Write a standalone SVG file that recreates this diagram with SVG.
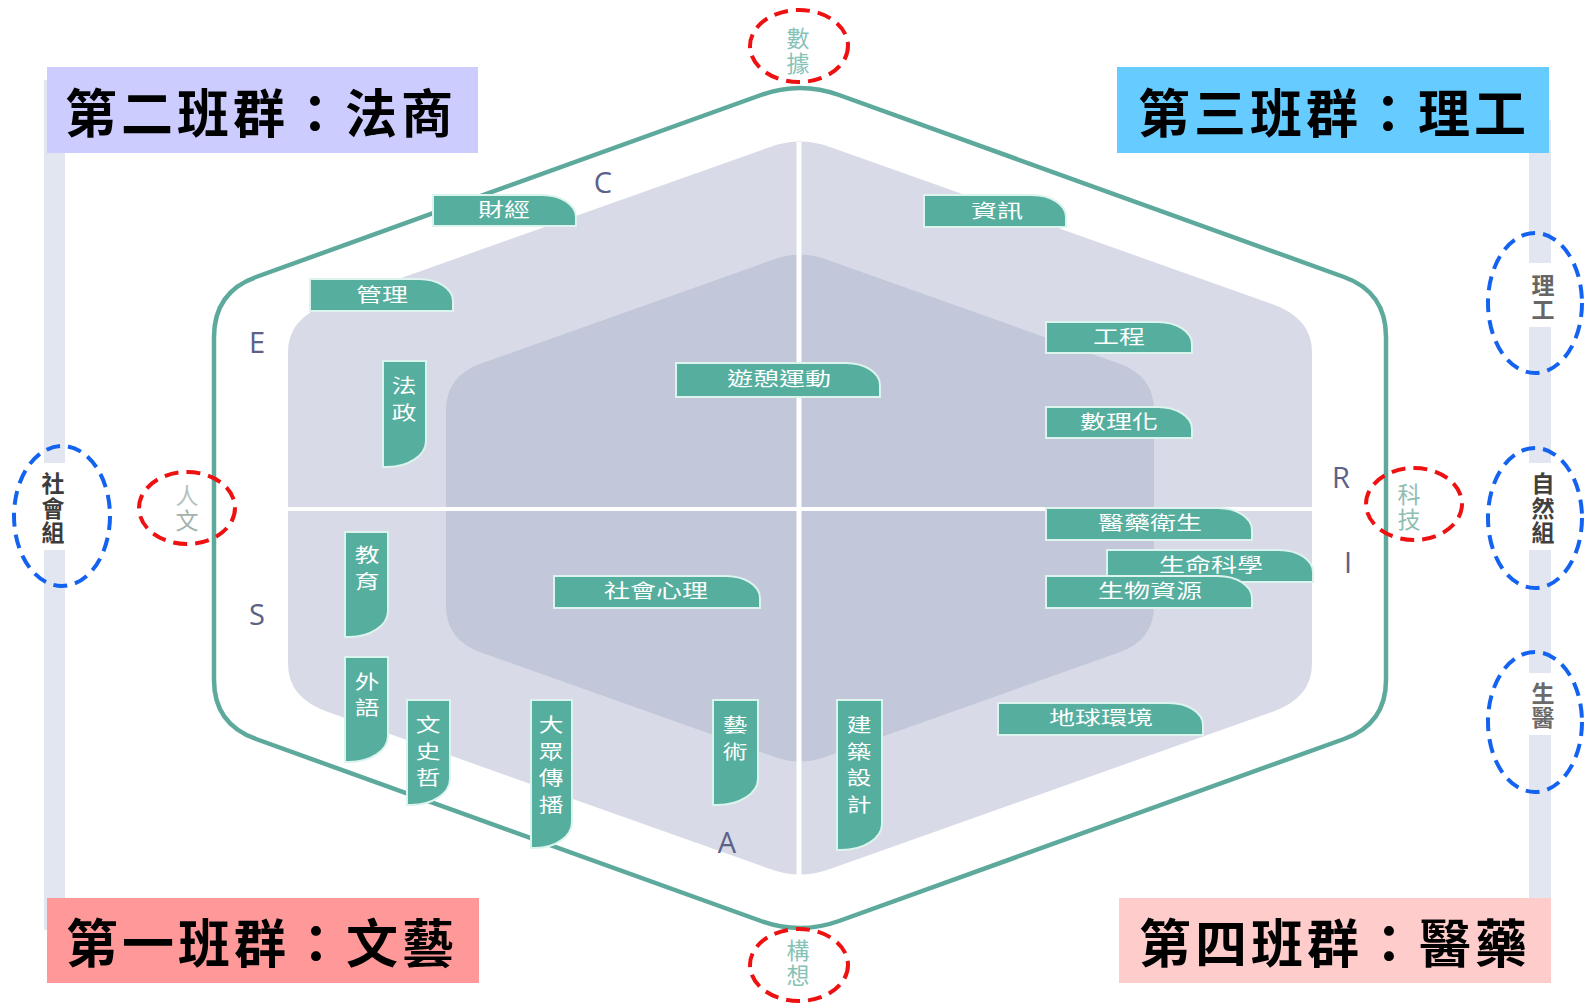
<svg xmlns="http://www.w3.org/2000/svg" width="1586" height="1006" viewBox="0 0 1586 1006">
<style>
.title{font-family:"Noto Sans CJK TC","Noto Sans CJK SC",sans-serif;font-size:52px;font-weight:700;fill:#000;letter-spacing:4px}
.tab{fill:#55AE9E;stroke:#DDF3EE;stroke-width:2}
.tt{font-family:"Noto Sans CJK TC",sans-serif;font-size:19px;fill:#fff;text-anchor:middle}
.riasec{font-family:"Open Sans","Noto Sans",sans-serif;font-size:29px;fill:#5B6187;text-anchor:middle}
.red{fill:none;stroke:#EE1111;stroke-width:4;stroke-dasharray:14 8}
.blue{fill:none;stroke:#1463F0;stroke-width:4;stroke-dasharray:14 8}
.ct{font-family:"Noto Sans CJK TC",sans-serif;font-size:23px;text-anchor:middle;writing-mode:vertical-rl;letter-spacing:2px}
.bt{font-family:"Noto Sans CJK TC",sans-serif;font-size:23px;font-weight:700;text-anchor:middle;writing-mode:vertical-rl;letter-spacing:1.5px}
.bar{fill:#E2E6F0}
</style>
<rect width="1586" height="1006" fill="#fff"/>

<g id="bars">
<rect class="bar" x="44" y="80" width="21" height="383"/>
<rect class="bar" x="44" y="550" width="21" height="380"/>
<rect class="bar" x="1529" y="120" width="22" height="143"/>
<rect class="bar" x="1529" y="327" width="22" height="136"/>
<rect class="bar" x="1529" y="550" width="22" height="123"/>
<rect class="bar" x="1529" y="735" width="22" height="190"/>
</g>

<g id="hex-outer-area">
<path fill="#D8DBE7" d="M770,147 Q800,136 830,147 L1272,304 Q1312,318 1312,352 L1312,664 Q1312,698 1272,712 L830,869 Q800,880 770,869 L328,712 Q288,698 288,664 L288,352 Q288,318 328,304 Z"/>
</g>
<g id="hex-inner-area">
<path fill="#C2C7DA" d="M775,259 Q800,250 825,259 L1119,363.5 Q1154,376 1154,410 L1154,606 Q1154,640 1119,652.5 L825,757 Q800,766 775,757 L481,652.5 Q446,640 446,606 L446,410 Q446,376 481,363.5 Z"/>
</g>
<g id="dividers">
<line x1="799" y1="142" x2="799" y2="876" stroke="#fff" stroke-width="5"/>
<line x1="288" y1="509" x2="1312" y2="509" stroke="#fff" stroke-width="4"/>
</g>
<g id="hex-outline">
<path fill="none" stroke="#5DAA9C" stroke-width="4.5" d="M761,95 Q800,81 839,95 L1344,277 Q1386,292 1386,337 L1386,680 Q1386,724 1344,739 L839,921 Q800,935 761,921 L256,739 Q214,724 214,680 L214,337 Q214,292 256,277 Z"/>
</g>

<g id="letters">
<text class="riasec" x="603" y="193">C</text>
<text class="riasec" x="257" y="353">E</text>
<text class="riasec" x="1341" y="488">R</text>
<text class="riasec" x="1348" y="573">I</text>
<text class="riasec" x="257" y="625">S</text>
<text class="riasec" x="727" y="853">A</text>
</g>

<g id="tab-caijing"><path class="tab" d="M433,195 H542 A34 22 0 0 1 576,217 V226 H433 Z"/><text class="tt" x="504" y="217" textLength="52" lengthAdjust="spacingAndGlyphs">財經</text></g>
<g id="tab-guanli"><path class="tab" d="M310,279 H419 A34 22 0 0 1 453,301 V311 H310 Z"/><text class="tt" x="382" y="302" textLength="52" lengthAdjust="spacingAndGlyphs">管理</text></g>
<g id="tab-zixun"><path class="tab" d="M924,195 H1032 A34 22 0 0 1 1066,217 V227 H924 Z"/><text class="tt" x="997" y="218" textLength="52" lengthAdjust="spacingAndGlyphs">資訊</text></g>
<g id="tab-gongcheng"><path class="tab" d="M1046,322 H1158 A34 22 0 0 1 1192,344 V353 H1046 Z"/><text class="tt" x="1119" y="344" textLength="52" lengthAdjust="spacingAndGlyphs">工程</text></g>
<g id="tab-shulihua"><path class="tab" d="M1046,407 H1158 A34 22 0 0 1 1192,429 V438 H1046 Z"/><text class="tt" x="1119" y="429" textLength="78" lengthAdjust="spacingAndGlyphs">數理化</text></g>
<g id="tab-youqi"><path class="tab" d="M676,363 H846 A34 22 0 0 1 880,385 V397 H676 Z"/><text class="tt" x="779" y="386" textLength="104" lengthAdjust="spacingAndGlyphs">遊憩運動</text></g>
<g id="tab-yiyao"><path class="tab" d="M1046,508 H1218 A34 22 0 0 1 1252,530 V540 H1046 Z"/><text class="tt" x="1150" y="530" textLength="104" lengthAdjust="spacingAndGlyphs">醫藥衛生</text></g>
<g id="tab-shengming"><path class="tab" d="M1107,550 H1279 A34 22 0 0 1 1313,572 V582 H1107 Z"/><text class="tt" x="1211" y="572" textLength="104" lengthAdjust="spacingAndGlyphs">生命科學</text></g>
<g id="tab-shengwu"><path class="tab" d="M1046,576 H1218 A34 22 0 0 1 1252,598 V608 H1046 Z"/><text class="tt" x="1150" y="598" textLength="104" lengthAdjust="spacingAndGlyphs">生物資源</text></g>
<g id="tab-diqiu"><path class="tab" d="M998,703 H1169 A34 22 0 0 1 1203,725 V735 H998 Z"/><text class="tt" x="1101" y="725" textLength="104" lengthAdjust="spacingAndGlyphs">地球環境</text></g>
<g id="tab-shehui"><path class="tab" d="M554,576 H726 A34 22 0 0 1 760,598 V608 H554 Z"/><text class="tt" x="656" y="598" textLength="104" lengthAdjust="spacingAndGlyphs">社會心理</text></g>

<g id="tab-fazheng"><path class="tab" d="M383,361 H426 V441 A39 26 0 0 1 387,467 H383 Z"/>
<text class="tt" transform="translate(404,0) scale(1.3,1)"><tspan x="0" y="393">法</tspan><tspan x="0" y="420">政</tspan></text></g>
<g id="tab-jiaoyu"><path class="tab" d="M345,532 H388 V611 A39 26 0 0 1 349,637 H345 Z"/>
<text class="tt" transform="translate(367,0) scale(1.3,1)"><tspan x="0" y="562">教</tspan><tspan x="0" y="589">育</tspan></text></g>
<g id="tab-waiyu"><path class="tab" d="M345,657 H388 V736 A39 26 0 0 1 349,762 H345 Z"/>
<text class="tt" transform="translate(367,0) scale(1.3,1)"><tspan x="0" y="689">外</tspan><tspan x="0" y="715">語</tspan></text></g>
<g id="tab-wenshizhe"><path class="tab" d="M407,700 H450 V779 A39 26 0 0 1 411,805 H407 Z"/>
<text class="tt" transform="translate(428,0) scale(1.3,1)"><tspan x="0" y="732">文</tspan><tspan x="0" y="759">史</tspan><tspan x="0" y="785">哲</tspan></text></g>
<g id="tab-dazhong"><path class="tab" d="M531,700 H572 V822 A37 26 0 0 1 535,848 H531 Z"/>
<text class="tt" transform="translate(551,0) scale(1.3,1)"><tspan x="0" y="732">大</tspan><tspan x="0" y="759">眾</tspan><tspan x="0" y="785">傳</tspan><tspan x="0" y="812">播</tspan></text></g>
<g id="tab-yishu"><path class="tab" d="M713,700 H758 V779 A41 26 0 0 1 717,805 H713 Z"/>
<text class="tt" transform="translate(735,0) scale(1.3,1)"><tspan x="0" y="732">藝</tspan><tspan x="0" y="759">術</tspan></text></g>
<g id="tab-jianzhu"><path class="tab" d="M837,700 H882 V824 A41 26 0 0 1 841,850 H837 Z"/>
<text class="tt" transform="translate(859,0) scale(1.3,1)"><tspan x="0" y="732">建</tspan><tspan x="0" y="759">築</tspan><tspan x="0" y="785">設</tspan><tspan x="0" y="812">計</tspan></text></g>

<g id="group2"><rect x="47" y="67" width="431" height="86" fill="#CCCCFF"/><text class="title" x="65" y="133">第二班群：法商</text></g>
<g id="group3"><rect x="1117" y="67" width="432" height="86" fill="#66CCFF"/><text class="title" x="1138" y="133">第三班群：理工</text></g>
<g id="group1"><rect x="47" y="898" width="432" height="85" fill="#FF9999"/><text class="title" x="66" y="963">第一班群：文藝</text></g>
<g id="group4"><rect x="1119" y="898" width="432" height="85" fill="#FFCCCC"/><text class="title" x="1139" y="963">第四班群：醫藥</text></g>

<g id="c-shuju"><ellipse class="red" cx="799" cy="46" rx="49" ry="36"/><text class="ct" fill="#86C2B7" x="798" y="52">數據</text></g>
<g id="c-renwen"><ellipse class="red" cx="187" cy="508" rx="48" ry="36"/><text class="ct" fill="#A3B2AE" x="187" y="509"><tspan fill="#B5C2BE">人</tspan>文</text></g>
<g id="c-keji"><ellipse class="red" cx="1414" cy="504" rx="48" ry="36"/><text class="ct" fill="#8EBDB3" x="1409" y="508">科技</text></g>
<g id="c-gouxiang"><ellipse class="red" cx="799" cy="965" rx="49" ry="36"/><text class="ct" fill="#86C2B7" x="798" y="964">構想</text></g>

<g id="b-shehui"><ellipse class="blue" cx="62" cy="516" rx="48" ry="70"/><text class="bt" fill="#3C3C3C" x="53" y="509">社會組</text></g>
<g id="b-ligong"><ellipse class="blue" cx="1535" cy="303" rx="47" ry="70"/><text class="bt" fill="#666" x="1543" y="298">理工</text></g>
<g id="b-ziran"><ellipse class="blue" cx="1535" cy="518" rx="47" ry="70"/><text class="bt" fill="#404040" x="1543" y="509">自然組</text></g>
<g id="b-shengyi"><ellipse class="blue" cx="1535" cy="722" rx="47" ry="70"/><text class="bt" fill="#6A6A6A" x="1543" y="706">生醫</text></g>
</svg>
